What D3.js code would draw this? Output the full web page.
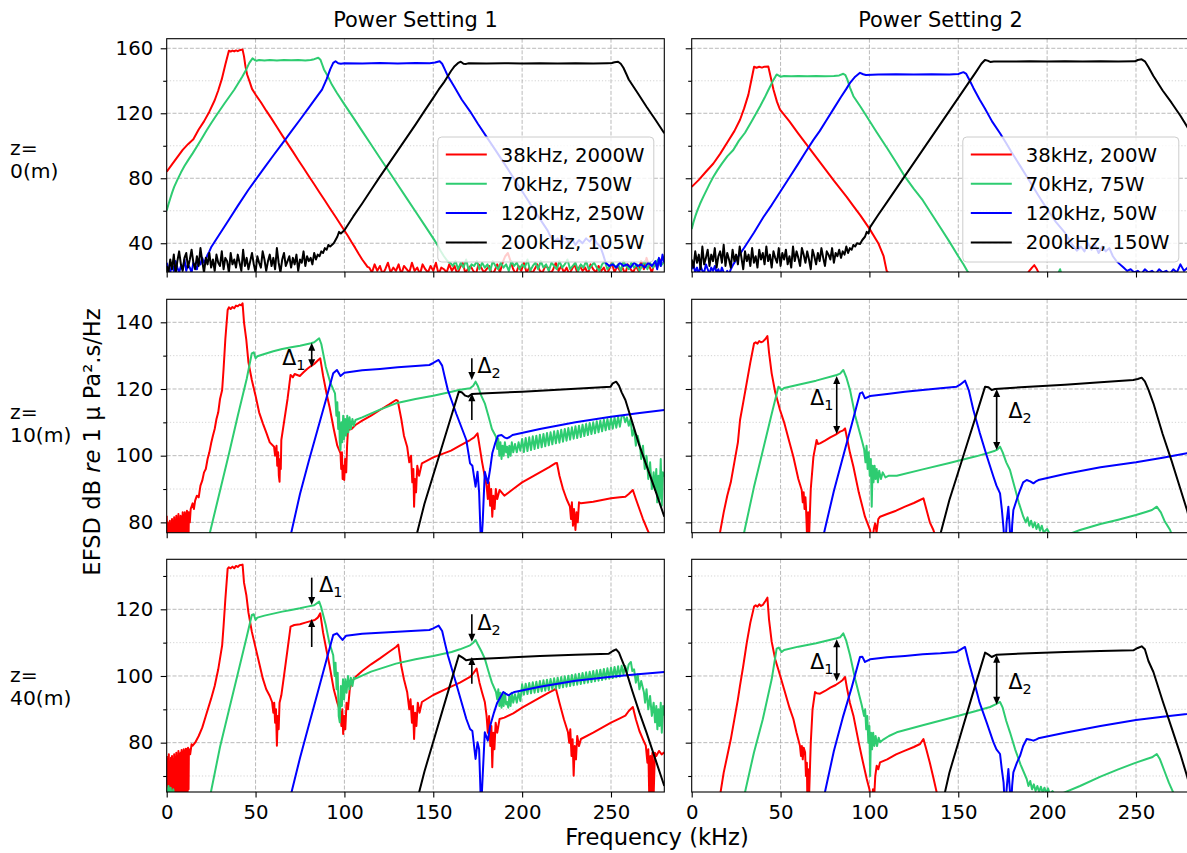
<!DOCTYPE html>
<html><head><meta charset="utf-8">
<script src="https://cdn.jsdelivr.net/npm/d3@7"></script>
<style>
body{margin:0;background:#fff}
svg{display:block}
text{font-family:"DejaVu Sans",sans-serif;fill:#000}
</style>
</head><body>
<svg id="c" width="1187" height="853"></svg>
<script>
// ---------------- DATA ----------------
const freqTicks = [0, 50, 100, 150, 200, 250];
const columnTitles = ["Power Setting 1", "Power Setting 2"];
const rowLabels = [["z=", "0(m)"], ["z=", "10(m)"], ["z=", "40(m)"]];
const rowYDomains = [[22.3, 165.9], [76.9, 146.9], [65.2, 135.0]];
const rowYMajor = [[40, 80, 120, 160], [80, 100, 120, 140], [80, 100, 120]];
const rowYMinor = [[60, 100, 140], [90, 110, 130], [70, 90, 110, 130]];
const seriesColors = ["#ff0000", "#2ecc71", "#0000ff", "#000000"];
const legendPS1 = ["38kHz, 2000W", "70kHz, 750W", "120kHz, 250W", "200kHz, 105W"];
const legendPS2 = ["38kHz, 200W", "70kHz, 75W", "120kHz, 50W", "200kHz, 150W"];
const yLabelParts = [["EFSD dB ", false], ["re", true], [" 1 \u03bc Pa\u00b2.s/Hz", false]];
const xLabel = "Frequency (kHz)";

// ---- Power setting 1, z = 0 m ----
const ps1_z0_38 = [0,84, 3,88.5, 6,93, 9,97.5, 12,101, 15,104, 18,110, 21,115, 24,121, 27,128, 29,134, 31,141, 33,150, 35,158.5, 36,158, 37,158.6, 38,158.1, 39,158.7, 40,158.2, 41,158.8, 42.7,159.2, 43.5,155, 44.3,149, 45.2,144, 46.8,139, 48,135, 50,131.5, 53,126.8, 56,121.6, 59,116.7, 62,111.5, 65,106.4, 68,101.3, 71,96.4, 74,91.2, 77,86.3, 80,81.2, 83,76.3, 86,71.2, 89,66.3, 92,61.2, 95,56.3, 98,51.2, 100,47.8, 102,44.5, 104,40.8, 106,37.3, 108,33.5, 110,30, 112,27, 113,25.5];
const ps1_z0_38_floor = [25,22,27,23,26,21,24,28,22,25, 23,27,21,26,24,22,28,23,25,21, 27,24,22,26,23,28,21,25,24,22, 27,23,26,21,25,28,22,24,26,23, 21,27,25,22,24,26,21,23,27,22, 28,32,34,29,24,21,26,23,28,22, 25,21,24,27,23,22,26,25,21,24, 28,23,26,22,25,21,24,27,22,26, 23,25,21,27,24,22,26,23,25,21, 24,28,22,26,23,25,21,27,24,22, 26,23,29,24,31,26,22,28,25,30,27];
const ps1_z0_70 = [0,60.2, 1,64, 2,67.5, 3,71, 4.2,74.7, 6,79, 8,83.5, 10,87.5, 12,91, 14.6,95.3, 17,99.5, 20,105, 22.5,109.5, 25,113.9, 27.5,118, 30,122, 32.5,126, 35.4,130.5, 38,134.5, 40,138, 42.5,142.5, 44.8,147, 46.5,151, 48.3,153.8, 49.5,152.8, 50.5,152.3, 52,152.8, 55,152.5, 58,152.8, 62,152.5, 66,152.8, 70,152.6, 74,152.8, 78,152.5, 81,152.8, 83,153.3, 85.3,154.2, 86.5,153, 87.5,150, 88.5,147, 90.6,142.9, 93,137.5, 95.8,132.5, 100,125.5, 105,117.3, 110,109, 115,100.8, 120,92.5, 125,84.3, 130,76, 135,67.8, 140,59.5, 145,51.3, 150,43, 152,39.5, 154,35.5, 156,32, 158,29, 160,27.5];
const ps1_z0_70_floor = [26,29,24,28,25,30,23,27,26,29, 24,28,25,27,23,29,26,24,28,25, 27,23,29,26,28,24,27,25,30,23, 26,28,24,29,25,27,23,28,26,24, 29,25,27,30,24,26,28,23,27,25, 29,24,26,28,25,23,27,29,24,26, 28,25,27,23,29,26,24,28,25,27, 23,26,29,24,28,25,27,30,26,28];
const ps1_z0_120_floor = [28,24,22,27,23,29,25,22,26,24,30,23,27,25,22,28,26,24,29,27,31,28,30,33,35];
const ps1_z0_120 = [25,37.5, 30,46, 35,54.5, 40,63, 45.8,72.6, 50,79, 55,86.5, 60,94, 66.6,103.6, 70,108.7, 75,116, 80,123.5, 85,131, 87.4,134.6, 90,141, 92,147, 93.7,151, 95,152, 96.5,150.8, 98,150.5, 100,150.8, 110,150.7, 120,150.9, 130,150.7, 140,150.9, 148,150.8, 151,151.2, 153.6,152, 155,150.5, 156.5,147, 158.2,142.9, 162,136, 166,128.5, 170.7,121.2, 175,113.7, 180,105.5, 185,97.3, 190,89, 195,80.5, 200,72, 205,63.5, 210,55, 214.4,47.8, 216,44, 218,41, 220,43, 222,40, 224,44, 226,41, 228,43, 230,39, 232,42, 234,40, 236,43, 238,41, 240,44, 242,40, 244,38, 245.6,33, 247,28, 249,26, 251,27, 253,25, 255,28, 257,26, 259,27, 261,25, 263,28, 265,26, 267,27, 269,25, 271,28, 273,26, 275,29, 276,24, 277,31, 278,26, 279,33, 280,28];
const ps1_z0_200_floor = [26,22,30,24,33,21,29,35,27,23,31,34,25,30,36,28,24,32,26,37,29,22,31,27,34,25,30,23,33,28,26,35,24,31,29,22,34,27,30,25,33,28,23,36,26,31,24,29,34,27,22,32,28,25,35,30,23,29,33,26,31,24,37,28,22,30,34,26,29,32,25,31,27,33,23,30,28,35,26,32,29,31,27,34,30,33,32,35,34,37,36,39];
const ps1_z0_200 = [92,38, 94,40, 96,44, 97,47, 98,46, 100,48, 105,56.5, 110,64.5, 115,72.8, 120,81, 125,89, 130,97, 135,105, 140,113, 145,121.3, 150,129.5, 153,134.5, 156,139, 158,142.5, 160,146, 162,149, 164,151, 165.5,151.7, 167,150.5, 168.5,150.4, 170,150.8, 180,150.6, 190,150.8, 200,150.6, 210,150.8, 220,150.6, 230,150.8, 240,150.6, 248,150.8, 250.5,150.9, 252,151.4, 254,151.7, 255.5,150.5, 257,148, 258.5,144.5, 260,140.8, 265,132.5, 270,124, 275,116, 280,107.7];

// ---- Power setting 2, z = 0 m ----
const ps2_z0_38 = [0,74.7, 4,79, 8,84, 12.2,89.1, 16,95, 20,102, 24,109, 27.2,116, 29.5,123, 31.9,131.5, 33.5,140, 35.1,148.6, 36.5,148, 38,148.6, 39.5,148.1, 41,148.7, 43.1,148.8, 44.5,142, 46,134.6, 48,127, 49.7,122.2, 55,115, 60,107.5, 65,100.3, 70,93, 75,85.8, 80,78.5, 87.2,68.5, 91,62.8, 95,57, 100,49, 105,40, 108,32, 109.7,23, 112,20, 130,19, 150,20, 170,19, 188,20, 190,23, 191.5,25, 192.8,26.5, 194,24.5, 196,20, 230,19, 280,20];
const ps2_z0_70 = [0,48.8, 1,53, 2,56.5, 3.3,60.5, 4.7,64.3, 6.5,68.5, 8.5,73, 10.3,77, 12.2,80.9, 14.5,85, 17,89, 20,93.5, 23.4,97.4, 26.5,103, 30,108, 34,115.5, 38.5,124.3, 41,129.5, 43,134, 45.5,139.5, 47.8,143.9, 49,143.2, 50,142.5, 52,143, 56,142.8, 60,143, 65,142.8, 70,143, 75,142.8, 80,143, 83,143.3, 85.3,144.3, 86.5,143.5, 87.5,141, 89,136, 91,130.5, 95,124, 98.5,118, 104,108.5, 110,98.5, 115,89.8, 120,81, 125,73.5, 130,66.5, 135,58, 140,49.5, 145,41, 150,32, 152.9,27.1, 155,23, 157,20, 205,20, 206.5,22, 207.3,24, 208,21, 210,19, 280,19];
const ps2_z0_120_floor = [24,27,22,25,21,26,23,22,27,24,21,25,23,26,22,24,21,25,22,20,23,21,24];
const ps2_z0_120 = [23.4,27, 26,31.5, 30,38, 35,46.5, 40.3,56, 45,63.5, 50,72, 55,80.5, 60,89, 64,96, 68.5,103.6, 72,109, 76,116, 80,123, 84,130, 87,135, 89.1,138.7, 92,142.5, 94.7,144.9, 96.5,144, 98,143.6, 105,143.8, 115,144, 125,143.8, 135,144, 145,143.9, 150,144.2, 152.9,145.3, 154.5,144.2, 156.5,140, 158.5,135.6, 162,128.5, 165,123, 169,115, 173.5,107.7, 177,101.5, 180,96, 185,87.3, 190,78.5, 195,69.5, 200,61, 205,53, 210,46.5, 213,41, 216.7,35.4, 219,38, 221,35, 223,40, 225,36, 227,39, 229,34, 231,38, 233,35, 235,37, 237,32, 239,29, 241,27, 243,25, 245,23, 247,24, 249,22, 251,23, 253,21, 255,24, 257,22, 259,23, 261,21, 263,24, 265,22, 267,23, 269,21, 271,24, 273,22, 275,27, 277,23, 279,25, 280,22];
const ps2_z0_200_floor = [30,25,35,28,33,24,38,27,31,36,26,33,29,37,25,32,35,28,39,26,34,30,25,36,29,33,27,38,31,24,35,29,33,26,37,28,32,25,36,30,34,27,38,29,33,25,35,31,28,37,26,34,30,36,27,32,25,38,29,35,31,26,37,33,28,35,30,24,36,32,27,34,29,37,31,26,35,33,30,37,28,34,32,36,31,35,33,38,34,37,36,39,38,40];
const ps2_z0_200 = [94.7,39.5, 96,42, 97.5,44, 98.5,47, 99.5,46, 100.4,49.9, 105,57.5, 110,65.5, 115,73.5, 120,81.5, 125,89.5, 130,97.5, 135,105.5, 140,113.5, 145,121.5, 150,129.5, 155,137.5, 160,145.5, 163,150.5, 165,152.8, 166.5,152.4, 168,151.6, 170,151.9, 180,151.8, 190,152, 200,151.8, 210,152, 220,151.8, 230,152, 240,151.9, 249.5,152, 251,152.8, 253.2,153.2, 255,152, 257,148.5, 259.8,142.9, 265,134, 270,126.5, 275,118.5, 278.7,111.9, 280,109.5];

// ---- Power setting 1, z = 10 m ----
const ps1_z10_38_start = [82,74,80,73,79.5,75,80.5,72,79,74,81,73,80,75,81.5,72,80,74,82,73,81,75,82.5,73,81,74,82,72,81.5,75,83,73,82,74,83,72,82.5,75,83.5,74,83,76];
const ps1_z10_38 = [12.5,83, 13,80, 13.5,84, 14.6,85.7, 15.3,84, 16,86.5, 17,88, 18,87.5, 19,91, 20,92.5, 21,95, 22,96, 23,99, 24,101, 25,103.7, 26,106, 27,108, 28,111, 29,113, 30,117, 31.2,119.7, 32,126, 33,135, 34.3,143.7, 35,144.5, 36,144, 37,144.6, 38,144.2, 39,145, 40,144.8, 41,145.3, 42,145.1, 42.7,145.7, 43.5,140, 44.8,134.7, 46,128, 47.9,122.7, 50,118, 52,113, 54.1,109.7, 56,107, 58,104, 60.4,102.7, 61,100, 61.8,103, 62.2,97, 62.7,101, 63.1,94, 63.5,92.2, 63.8,99, 64.2,96, 64.5,104.7, 66,110, 68,117, 69.7,124.2, 71,123.5, 72,124.5, 74.9,123.9, 77,125, 79,126, 81,126.8, 83,127.5, 85.3,128.7, 86.4,129.2, 88,124, 90,118.5, 91.6,114.7, 94,108, 96,103, 97.8,100.7, 98.2,96, 98.6,101, 99,93, 99.5,97, 99.9,92.7, 100.4,99, 101,95, 101.5,103, 102,107.7, 104,108, 106.2,109.2, 110,110.5, 115,112, 120,113.7, 125,115.3, 129,116.7, 130,116.5, 132,111, 133.5,106, 135.3,102.7, 136.5,98, 137.5,100, 138.2,92, 138.8,96, 139.2,84.7, 139.7,93, 140.3,89, 141,97, 142,94, 143.6,97.7, 150,99.5, 160,101.5, 165,103, 170.7,104.7, 173,105.5, 174.9,106.7, 176,103, 177.5,98, 179,93.7, 180,91, 180.7,87, 181.3,92, 182,85, 182.6,90, 183.2,81.7, 183.8,88, 184.5,84, 185.2,90, 186,87, 187.3,89.7, 190,88, 195,90, 200,92, 205,93.5, 210,95, 215,96.5, 218.6,97.7, 219.6,97.8, 221,94, 223,90, 225,87, 226.9,84.7, 227.5,81, 228,86, 228.6,79, 229.2,84, 230,77.7, 230.6,83, 231.3,80, 232,86, 233.1,85.7, 240,86.2, 245,86.7, 250,87.2, 255,87.5, 258.1,87.7, 260,88.5, 262.3,89.7, 264,87, 266,84, 268,81, 270.6,77.7, 272,76, 280,74];
const ps1_z10_70 = [23.9,76, 30,89.5, 35,100.5, 40,112, 45,123, 47.9,130.7, 49,131, 50,129.2, 51,129.8, 55,130.5, 60,131.3, 65,132, 70,132.5, 75,133, 81.2,133.7, 83,134, 85.8,135.2, 87,133.5, 89.5,126.7, 92,122, 94.7,118.7, 95.5,112, 96,116, 96.5,108, 97,113, 97.4,104, 97.8,101.7, 98.3,110, 98.8,104, 99.3,112, 99.8,105, 100.4,111, 101,106, 101.6,112, 102.2,107, 102.9,111.5, 103.6,108, 104.5,111, 105.3,109, 106.2,110.7, 110,111.5, 120,113.8, 129,115.7, 140,117, 150,118, 160.3,119.2, 165,119.8, 170.7,120.2, 172.5,121, 173.8,122.2, 175,121, 177,118, 179,115.7, 181,112, 183,108, 185.3,105.7, 186,102, 186.6,105, 187.2,100, 187.8,104, 188.4,99, 189,103, 189.6,100, 190.3,104, 191,101, 191.5,102.7, 192.2,99.5, 192.8,103, 193.5,100, 194.2,104, 195,101, 196,103.5, 197,101, 198,104, 199,101.5];
const ps1_z10_70_band = [105,101.1,105.3,101.4,105.5,101.7,105.8,102,106,102.3,106.3,102.5,106.5,102.8,106.8,103.1,107,103.4,107.3,103.7,107.5,103.9,107.8,104.2,108,104.5,108.3,104.8,108.5,105.1,108.8,105.3,109,105.6,109.3,105.9,109.5,106.2,109.8,106.5,110,106.7,110.3,107,110.5,107.3,110.8,107.6,111,107.9,111.3,108.1,111.5,108.4,111.7,108.7,111.8];
const ps1_z10_70_end = [257.1,112, 258,110, 259,111.5, 260,109, 261,111, 262,106, 263,108, 264,103, 265,106, 266.4,102.7, 267,99, 268,103, 269,96, 270,100, 271,93, 272,98, 273,90, 274,95, 274.8,89.7, 275.5,96, 276,86, 276.7,94, 277.3,87, 278,99, 278.6,85, 279.2,95, 280,93.7];
const ps1_z10_120 = [69.7,76, 75,88.5, 80,98.5, 85,108, 90,117.5, 93.7,124.7, 95.8,125.7, 97.8,123.9, 100,124.9, 110,125.6, 120,126, 130,126.5, 140,126.9, 147.8,127.2, 150,127.8, 153,128.7, 155,127, 156.5,123.5, 158.2,119.7, 163,112.5, 168.6,104.7, 170.7,97.7, 172,97, 173.8,90.7, 174.9,95.2, 175.8,89, 176.9,72, 177.8,80, 179,95.2, 180.7,91.7, 182,96, 183.2,100.7, 185,104, 186.5,106, 188.4,106.2, 190,105.5, 191.5,105.2, 193,105.6, 194.6,106.2, 210,108, 230,110, 250,111.7, 265,112.7, 280,113.7];
const ps1_z10_200 = [140.5,76, 145,85.5, 150,94.2, 155,102.9, 160,111.6, 164.4,119.2, 166,119, 168,118, 169.7,117.7, 171.7,118.5, 180,118.7, 200,119.2, 220,119.8, 240,120.4, 249.8,120.7, 251,121.7, 252.9,122.2, 254.5,121, 256,119, 258.1,116.7, 262,110, 266,103, 270,97, 275,89.5, 280,81.7];

// ---- Power setting 2, z = 10 m ----
const ps2_z10_38 = [15.6,76, 18,83, 20,88, 22,92, 24,98, 26,104, 27.2,110.7, 29,116, 31,122, 33,128, 35.1,133.7, 36,134, 37,133.6, 38,134.4, 39,134, 40,134.2, 41.5,135, 42.6,135.9, 43.5,131, 45,124.7, 47,119, 49.7,113.7, 52,110, 55,104, 57.2,99.7, 60,93, 61.9,89.7, 62.5,86, 63,89, 63.5,84, 64,87.5, 64.3,84.7, 64.7,79, 65.1,72, 65.5,83, 66,75, 67,90, 68.5,99.7, 70.3,104.7, 71,103.5, 72.2,103.7, 75,104.5, 78,105.5, 81,106.3, 83.5,107.2, 85,107.5, 86.3,108.2, 87.5,105, 89,101, 91,96.7, 94,89, 97.5,81.7, 100.4,77.7, 101.5,74, 102.5,78, 103.2,79.7, 104,77, 105,81, 106,81.7, 110,82.5, 115,83.5, 120,84.7, 125,85.8, 128.5,86.7, 130.4,87.2, 132,84, 134,80, 136,77.7, 137,76];
const ps2_z10_70 = [29.1,76, 35,90.5, 40,101.5, 45,112.5, 48.8,120.7, 50.6,119.7, 52,120.3, 60,121.3, 70,122.5, 81.6,124.2, 83.5,124.6, 85.3,125.7, 87,123.5, 89.1,119.7, 92,112, 95.7,104.7, 97,102, 97.8,98, 98.4,103, 99,96, 99.6,101, 100.2,94, 100.8,99, 101.3,84.7, 101.8,97, 102.3,92, 102.9,97, 103.5,93, 104.1,96, 104.8,92, 105.5,95.5, 106.5,93, 107.5,95, 109,93.5, 111,94, 115.4,94, 130,95.9, 145,97.8, 160,99.8, 166,100.7, 170.7,101.5, 172,101.8, 173.5,102.7, 175,101, 177,98, 179.1,95.7, 182,90, 184,86, 186.6,81.7, 188,80, 189,81.5, 190,79, 191,80.5, 192,78.5, 193,80, 194,78, 195,79.5, 196,77.5, 197,79, 198,77, 200,78, 202,76, 205,75, 218.5,77.7, 230,79.5, 240,80.8, 250,82.2, 256,83.2, 259,83.7, 261.7,84.7, 264,83, 266,80.5, 269.2,77.7, 271,75];
const ps2_z10_120 = [74.1,76, 80,89.4, 85,99.4, 90,109.3, 94.7,118.7, 96,119, 97.5,117.2, 100.4,117.9, 110,118.5, 120,119.2, 130,119.7, 140,120.2, 149.1,120.7, 151,121.3, 153.8,122.5, 156,119.5, 158.5,113.7, 162,107, 166,100, 169.8,93.7, 171.5,91, 173.5,88.7, 174.5,84, 175.5,78, 176.3,70, 177.2,80, 178.2,84.7, 179,78, 179.7,70, 180.3,79, 181,83.7, 183,87, 184.8,89.7, 186.5,92, 188.5,92.7, 190.5,92.3, 192.3,91.7, 194,92.4, 195.1,92.7, 210,94.5, 230,96.5, 250,98, 265,99.4, 278.7,100.7, 280,100.8];
const ps2_z10_200 = [139.7,76, 145,86.7, 150,95.1, 155,103.6, 160,112, 165.1,120.7, 167,120.5, 168.8,119.7, 170.7,120, 190,120.7, 210,121.3, 230,122, 248.5,122.7, 251,123, 253.2,123.4, 255,122.3, 257,119.8, 259.8,115.7, 265,106.5, 270,98.5, 275,90, 278.7,83.7, 280,81];

// ---- Power setting 1, z = 40 m ----
const ps1_z40_38_start = [76,62,75,64,76.5,61,74,66,75.5,63,76,60,75,65,76.5,62,75.5,64,77,61,76,63,77.5,62,76.5,65,77,61,77.8,63,77,60,78,64,77.5,62,78.2,65,78,61,78.5,66];
const ps1_z40_38 = [12.5,78.1, 13.2,76.5, 14,79.5, 14.6,79.1, 16,80, 18,82, 20,84.5, 22,88, 25,93.2, 27,97, 29,102, 31.2,109.2, 32,115, 33,123, 34.3,132.2, 35,132.6, 36,132.3, 37,132.8, 38,132.3, 39,133, 40,132.7, 41,133.2, 42.7,133.4, 43.5,128, 44.8,124.3, 46,119, 47.9,113.3, 50,108.5, 52,104, 54.1,99.2, 56,96, 58,94, 59.3,92.2, 60,89, 60.5,92, 61,86, 61.5,90, 62,79.1, 62.5,88, 63,84, 63.5,92, 64.5,94.2, 66,100, 68,108, 69.7,114.8, 71.8,115.3, 75,115.5, 78,116, 80,116.3, 83.3,116.8, 85,117.5, 86.4,118.8, 88,113, 90,107.5, 91.6,103.2, 94,96, 96,92, 97.8,89.1, 98.3,85, 98.8,90, 99.3,82.6, 99.9,88, 100.5,84, 101.2,92, 102,90, 103,96, 104.1,98.2, 106.2,99.7, 110,101.5, 115,103.5, 120,105.3, 125,107.2, 129,108.7, 130.3,109.4, 132,103, 133.5,99, 135.3,95.2, 136.5,90, 137.2,93, 138,86, 138.6,91, 139.2,81.1, 139.8,89, 140.5,85, 141.3,92, 142.3,89, 143.6,92.2, 150,94.3, 160,96.8, 165,98, 170.7,99.7, 172.5,100.8, 174.4,102.2, 176,98, 177.5,95, 179,92.2, 180,88, 180.7,83, 181.4,88, 182.1,79, 182.7,85, 183.2,72.6, 183.8,83, 184.4,78, 185.1,86, 186,83, 187.3,87.1, 190,87.5, 195,88.8, 200,90.5, 205,92, 210,93.5, 215,95, 217.5,95.7, 219,96.2, 221,92, 223.5,87, 225.8,83.1, 226.5,80, 227.1,84, 227.8,76, 228.4,81, 229,70.1, 229.6,79, 230.3,75, 231,82, 232,79, 233.1,81.1, 240,83, 245,84.5, 250,86, 255,87.3, 258.1,88.1, 260,89.5, 262.3,90.7, 264,87, 266,83.5, 268,81, 269.6,79.1, 270.5,74, 271,78, 271.6,62, 272.2,76, 272.7,60, 273.3,77, 274,64, 274.7,77, 275.5,76, 277,77.5, 278.5,76.5, 280,77.1];
const ps1_z40_70 = [0,64, 1,67, 1.5,63, 2.2,66.5, 3,63, 3.7,66, 4.5,63, 5,60, 23.9,62, 25,65.5, 30,78.7, 35,89.7, 40,100.7, 45,111.7, 47.9,118.3, 49,118.5, 50,116.8, 51,117.5, 55,118.1, 60,118.7, 65,119.3, 70,119.8, 75,120.3, 79.1,120.8, 83,121.2, 85.8,122.3, 87,120.5, 89.5,115.3, 91.5,110, 93.7,106.2, 94.5,100, 95,104, 95.6,96, 96.2,101, 96.8,88, 97.4,86.1, 98,97, 98.6,91, 99.2,99, 99.8,93, 100.5,99, 101.2,95, 102,100, 102.8,96, 103.6,99.5, 104.5,97, 105.3,99.5, 106.2,99.2, 115,101.3, 129,103.7, 140,105, 150,106, 160.3,107.2, 165,108, 170.7,109.2, 172.5,110, 173.8,110.8, 175,109.5, 177,107.5, 179,105.2, 181,101.5, 183,98, 185.3,95.2, 186,93, 186.6,96, 187.2,91, 187.8,95, 188.4,90.5, 189,94.5, 189.6,91, 190.3,95, 191,91.5, 191.5,92.2, 192.2,90.5, 192.8,94, 193.5,91, 194.2,95, 195,92, 196,94.5, 197,92, 198,95, 199,92.5];
const ps1_z40_70_band = [97.5,94.4,97.7,94.6,97.9,94.8,98.1,95,98.3,95.2,98.5,95.4,98.7,95.6,98.9,95.8,99.1,96,99.3,96.2,99.5,96.4,99.7,96.6,99.9,96.8,100.1,97,100.3,97.2,100.5,97.4,100.7,97.6,100.9,97.8,101.1,98,101.3,98.2,101.5,98.4,101.7,98.6,101.9,98.8,102.1,99,102.3,99.2,102.5,99.4,102.7,99.6,102.9,99.8,103.1];
const ps1_z40_70_end = [257,100.5, 258,103, 259,101, 260,103.5, 261.2,104.2, 262,101.5, 263,102, 264,98, 265,100.5, 266,96, 267,98.5, 268.5,95.2, 269.2,92, 270,96, 271,90, 272,94, 273,88, 274,92, 274.8,86.1, 275.5,91, 276.1,84, 276.7,90, 277.3,85, 278,92, 278.6,83, 279.3,91, 280,88.1];
const ps1_z40_120 = [69.7,64, 75,75.4, 80,85.3, 85,95.1, 90,105, 93.7,112.3, 95.8,112.8, 98.9,110.8, 101,112.1, 110,112.7, 120,113, 130,113.3, 140,113.6, 147.8,113.8, 150,114.3, 153,115.1, 155,113.5, 156.5,110, 158.2,106.2, 163,97.5, 168.6,87.1, 170.7,84.1, 172,83.5, 173.8,75.1, 174.9,80.1, 175.8,78, 176.9,60, 177.8,70, 179,83.1, 180.7,80.6, 182,85, 184.2,89.1, 186,92, 189.4,95.2, 191,94.6, 192.5,94.2, 194,94.8, 195.7,95.2, 210,96.8, 230,98.6, 250,99.8, 265,100.5, 280,101.2];
const ps1_z40_200 = [141.5,64, 145,71.3, 150,80.3, 155,89.3, 160,98.3, 164.4,106.2, 166.5,105.5, 168.6,104.7, 171.7,105, 190,105.5, 210,106, 230,106.4, 248.8,106.7, 251,107.5, 252.9,108, 254.5,107, 256,105, 258.1,102.2, 262,95.5, 266,89, 270,83, 275,75, 280,67];

// ---- Power setting 2, z = 40 m ----
const ps2_z40_38 = [15.6,63, 18,71, 20,76, 22,81, 24,87, 26,93, 27.2,97.2, 29,103, 31,110, 33,116, 35.1,120.8, 36,121.2, 37,120.8, 38,121.5, 39,121, 40,121.3, 41.5,122.5, 42.6,123.5, 43.5,117, 45,110.3, 47,105, 49.7,100.2, 52,96, 55,90.5, 57.2,87.1, 59,83, 60.9,79.1, 61.5,76, 62,79, 62.5,75, 63,78.5, 63.8,77.1, 64.3,70, 64.8,74, 65.1,62, 65.5,72, 66,63, 67,80, 68,90, 69.4,95.2, 70.5,94.8, 72.2,94.7, 75,95.5, 78,96.5, 81,97.3, 83.5,98.2, 85,98.8, 86.3,99.7, 87.5,96, 89,92, 91,88.1, 94,80, 96,75, 98.5,69.1, 100,66, 101.3,62, 102,66, 102.6,63, 103.3,70, 104.1,73.1, 105,72, 106,74.1, 110,75, 115,76.5, 120,77.6, 125,78.7, 128.5,79.6, 130.4,81.1, 132,78, 134,74, 136,69.5, 137.9,65, 139,62];
const ps2_z40_70 = [29.1,63, 35,77, 40,87, 45,99, 47.8,108.2, 49,108.5, 50.6,107.2, 52,107.8, 60,108.8, 70,109.8, 81.6,111.3, 83.5,111.6, 85.3,112.8, 87,110.5, 89.1,106.2, 92,99, 95.7,91.2, 97,88, 97.6,90, 98.2,84, 98.8,88, 99.4,80, 100,85, 100.4,70, 100.9,83, 101.5,78, 102.1,83, 102.8,79, 103.5,82, 104.3,79, 105.2,81.5, 106,80.1, 108,81, 111,82, 115.4,83.1, 130,85.2, 145,87.3, 160,89.5, 167.9,90.7, 171,91.5, 173.5,92.2, 175,90.5, 177,86.5, 179.1,83.1, 182,78, 185,73.5, 188.5,69.1, 189.5,67, 190.5,68.5, 191.5,66, 192.5,67.5, 193.5,65.5, 194.5,67, 195.5,65.2, 196.5,66.8, 197.5,65, 198.5,66.5, 199.5,64.8, 200.5,66.3, 201.5,64.5, 203,65.5, 205,64, 218.5,67, 230,69.8, 240,72, 250,74, 256,75.1, 259,75.6, 261.7,76.6, 263.5,75, 266,71.5, 268.5,68, 271,65, 272,63];
const ps2_z40_120 = [74.1,63, 80,77.5, 85,87.5, 90,96.5, 94.7,105.7, 96,105.8, 97.5,104.2, 100.4,105, 110,105.6, 120,106, 130,106.5, 140,106.8, 149.1,107.2, 151,107.8, 153.8,108.7, 156,104, 158.5,99.2, 162,92, 166,86, 169.8,80.1, 171.5,78, 173.5,76.6, 174.5,72, 175.5,68, 176.3,60, 177.2,66, 178.2,72.1, 179,66, 179.7,60, 180.3,67, 181,71.1, 183,74, 184.8,76.1, 186.5,79, 188.5,81.1, 190.5,80.9, 192.3,80.6, 194,81, 195.1,81.3, 210,83, 230,85, 250,86.8, 265,87.8, 278.7,88.6, 280,88.7];
const ps2_z40_200 = [141.6,63, 145,71, 150,80, 155,89, 160,98, 165.1,107, 167,106.4, 168.8,105.7, 171.6,106.4, 190,106.8, 210,107.2, 230,107.5, 248.5,107.7, 251,108.4, 253.2,108.9, 255,108, 257,104.5, 259.8,101.2, 265,92.5, 270,84.5, 275,76.5, 278.7,70, 280,67.5];

// ---- Δ annotations (frequency kHz, levels dB) ----
const arrows_ps1_z10 = [{kind:"both", f:81.6, a:133.9, b:126.5}, {kind:"one", f:171.7, from:129.2, to:122.7}, {kind:"one", f:171.7, from:110.7, to:118.7}];
const labels_ps1_z10 = [{sub:"1", f:78.0, v:127.2, anchor:"end"}, {sub:"2", f:174.9, v:124.7, anchor:"start"}];
const arrows_ps2_z10 = [{kind:"both", f:81.6, a:123.9, b:106.5}, {kind:"both", f:171.6, a:120.0, b:101.7}];
const labels_ps2_z10 = [{sub:"1", f:79.7, v:115.2, anchor:"end"}, {sub:"2", f:178.2, v:111.2, anchor:"start"}];
const arrows_ps1_z40 = [{kind:"one", f:81.6, from:129.5, to:121.3}, {kind:"one", f:81.6, from:108.7, to:117.1}, {kind:"one", f:171.7, from:118.5, to:110.3}, {kind:"one", f:171.7, from:97.7, to:105.7}];
const labels_ps1_z40 = [{sub:"1", f:85.8, v:125.3, anchor:"start"}, {sub:"2", f:174.9, v:113.8, anchor:"start"}];
const arrows_ps2_z40 = [{kind:"both", f:81.6, a:111.0, b:98.4}, {kind:"both", f:171.6, a:106.4, b:91.4}];
const labels_ps2_z40 = [{sub:"1", f:79.7, v:102.1, anchor:"end"}, {sub:"2", f:178.2, v:96.1, anchor:"start"}];

// ---------------- BUILD ----------------
const P = a => { const o = []; for (let i = 0; i + 1 < a.length; i += 2) o.push([a[i], a[i + 1]]); return o; };
const G = (f0, df, v) => v.map((y, i) => [f0 + i * df, y]);

const panels = [
  {r:0, c:0, legend:legendPS1, arrows:[], labels:[], series:[
    P(ps1_z0_38).concat(G(114, 1.5, ps1_z0_38_floor)),
    P(ps1_z0_70).concat(G(161, 1.5, ps1_z0_70_floor)),
    G(0, 1, ps1_z0_120_floor).concat(P(ps1_z0_120)),
    G(0, 1, ps1_z0_200_floor).concat(P(ps1_z0_200))]},
  {r:0, c:1, legend:legendPS2, arrows:[], labels:[], series:[
    P(ps2_z0_38), P(ps2_z0_70),
    G(0, 1, ps2_z0_120_floor).concat(P(ps2_z0_120)),
    G(0, 1, ps2_z0_200_floor).concat(P(ps2_z0_200))]},
  {r:1, c:0, arrows:arrows_ps1_z10, labels:labels_ps1_z10, series:[
    G(0, 0.3, ps1_z10_38_start).concat(P(ps1_z10_38)),
    P(ps1_z10_70).concat(G(200, 1, ps1_z10_70_band), P(ps1_z10_70_end)),
    P(ps1_z10_120), P(ps1_z10_200)]},
  {r:1, c:1, arrows:arrows_ps2_z10, labels:labels_ps2_z10, series:[
    P(ps2_z10_38), P(ps2_z10_70), P(ps2_z10_120), P(ps2_z10_200)]},
  {r:2, c:0, arrows:arrows_ps1_z40, labels:labels_ps1_z40, series:[
    G(0, 0.3, ps1_z40_38_start).concat(P(ps1_z40_38)),
    P(ps1_z40_70).concat(G(200, 1, ps1_z40_70_band), P(ps1_z40_70_end)),
    P(ps1_z40_120), P(ps1_z40_200)]},
  {r:2, c:1, arrows:arrows_ps2_z40, labels:labels_ps2_z40, series:[
    P(ps2_z40_38), P(ps2_z40_70), P(ps2_z40_120), P(ps2_z40_200)]}
];

// ---------------- LAYOUT ----------------
const colX = [[166.7, 664.3], [691.7, 1189.3]];
const rowY = [[38.7, 272], [299.3, 532.7], [559.3, 792]];
const FS = 19.7;      // ticks, legend
const FS_TITLE = 20.9;
const FS_LABEL = 22.6;
const FS_ROW = 20.3;
const FS_DELTA = 20.5;

const svg = d3.select("#c");
const defs = svg.append("defs");

panels.forEach((p, i) => {
  const [x0, x1] = colX[p.c], [y0, y1] = rowY[p.r];
  const x = d3.scaleLinear().domain([0, 280]).range([x0, x1]);
  const y = d3.scaleLinear().domain(rowYDomains[p.r]).range([y1, y0]);
  const g = svg.append("g");
  const cid = "clip" + i;
  defs.append("clipPath").attr("id", cid).append("rect")
    .attr("x", x0).attr("y", y0).attr("width", x1 - x0).attr("height", y1 - y0);

  // grids
  g.selectAll(".gmin").data(rowYMinor[p.r]).join("line")
    .attr("x1", x0).attr("x2", x1).attr("y1", d => y(d)).attr("y2", d => y(d))
    .attr("stroke", "#c8c8c8").attr("stroke-width", 0.8).attr("stroke-dasharray", "1.2,2");
  g.selectAll(".gmaj").data(rowYMajor[p.r]).join("line")
    .attr("x1", x0).attr("x2", x1).attr("y1", d => y(d)).attr("y2", d => y(d))
    .attr("stroke", "#a8a8a8").attr("stroke-width", 0.8).attr("stroke-dasharray", "4,1.8");
  g.selectAll(".gx").data(freqTicks.slice(1)).join("line")
    .attr("y1", y0).attr("y2", y1).attr("x1", d => x(d)).attr("x2", d => x(d))
    .attr("stroke", "#a8a8a8").attr("stroke-width", 0.8).attr("stroke-dasharray", "4,1.8");

  // curves
  const line = d3.line().x(d => x(d[0])).y(d => y(d[1]));
  const lg = g.append("g").attr("clip-path", `url(#${cid})`);
  p.series.forEach((s, k) => {
    lg.append("path").attr("d", line(s)).attr("fill", "none")
      .attr("stroke", seriesColors[k]).attr("stroke-width", 2).attr("stroke-linejoin", "round");
  });

  // annotations
  const head = (xp, tip, dir) => {
    const L = 8, w = 3.5;
    return `M${xp},${tip} L${xp - w},${tip - dir * L} L${xp + w},${tip - dir * L} Z`;
  };
  p.arrows.forEach(a => {
    const xp = x(a.f);
    if (a.kind === "both") {
      const ya = y(a.a), yb = y(a.b);
      g.append("line").attr("x1", xp).attr("x2", xp).attr("y1", ya + 6).attr("y2", yb - 6)
        .attr("stroke", "#000").attr("stroke-width", 1.6);
      g.append("path").attr("d", head(xp, ya, -1));
      g.append("path").attr("d", head(xp, yb, 1));
    } else {
      const yf = y(a.from), yt = y(a.to);
      const dir = yt > yf ? 1 : -1;
      g.append("line").attr("x1", xp).attr("x2", xp).attr("y1", yf).attr("y2", yt - dir * 6)
        .attr("stroke", "#000").attr("stroke-width", 1.6);
      g.append("path").attr("d", head(xp, yt, dir));
    }
  });
  p.labels.forEach(l => {
    const t = g.append("text").attr("x", x(l.f)).attr("y", y(l.v))
      .attr("text-anchor", l.anchor).style("font-size", FS_DELTA + "px");
    t.append("tspan").text("\u0394");
    t.append("tspan").attr("dy", 5).style("font-size", "14.4px").text(l.sub);
  });

  // spines
  g.append("rect").attr("x", x0).attr("y", y0).attr("width", x1 - x0).attr("height", y1 - y0)
    .attr("fill", "none").attr("stroke", "#000").attr("stroke-width", 1.1);

  // y axis
  const ya = d3.axisLeft(y).tickValues(rowYMajor[p.r]).tickSize(6).tickPadding(7.5)
    .tickFormat(p.c === 0 ? d3.format("d") : () => "");
  const yg = g.append("g").attr("transform", `translate(${x0},0)`).call(ya);
  const ym = d3.axisLeft(y).tickValues(rowYMinor[p.r]).tickSize(3.5).tickFormat(() => "");
  const ymg = g.append("g").attr("transform", `translate(${x0},0)`).call(ym);
  // x axis
  const xa = d3.axisBottom(x).tickValues(freqTicks).tickSize(5.5).tickPadding(7.5)
    .tickFormat(p.r === 2 ? d3.format("d") : () => "");
  const xg = g.append("g").attr("transform", `translate(0,${y1})`).call(xa);
  [yg, ymg, xg].forEach(ax => {
    ax.select(".domain").remove();
    ax.selectAll("line").attr("stroke", "#000").attr("stroke-width", 1.1);
    ax.selectAll("text").style("font-size", FS + "px").style("font-family", '"DejaVu Sans",sans-serif').attr("fill", "#000");
  });

  // legend
  if (p.legend) {
    const lw = 216, lh = 125;
    const lx = x1 - 10.5 - lw, ly = 137;
    const lgd = g.append("g");
    lgd.append("rect").attr("x", lx).attr("y", ly).attr("width", lw).attr("height", lh)
      .attr("rx", 4).attr("fill", "#fff").attr("fill-opacity", 0.8)
      .attr("stroke", "#cccccc").attr("stroke-width", 1);
    p.legend.forEach((name, k) => {
      const yy = 154.5 + k * 29.3;
      lgd.append("line").attr("x1", lx + 8).attr("x2", lx + 49).attr("y1", yy).attr("y2", yy)
        .attr("stroke", seriesColors[k]).attr("stroke-width", 2);
      lgd.append("text").attr("x", lx + 63).attr("y", yy + 7).style("font-size", FS + "px").text(name);
    });
  }
});

// column titles
columnTitles.forEach((t, c) => {
  svg.append("text").attr("x", (colX[c][0] + colX[c][1]) / 2).attr("y", 27)
    .attr("text-anchor", "middle").style("font-size", FS_TITLE + "px").text(t);
});
// row labels
const rowLabelY = [[155, 178], [418.7, 442], [682, 705]];
rowLabels.forEach((lab, r) => {
  lab.forEach((s, j) => {
    svg.append("text").attr("x", 10).attr("y", rowLabelY[r][j]).style("font-size", FS_ROW + "px").text(s);
  });
});
// y label
const yl = svg.append("text").attr("transform", "translate(100,442) rotate(-90)")
  .attr("text-anchor", "middle").style("font-size", FS_LABEL + "px");
yLabelParts.forEach(([s, it]) => {
  const ts = yl.append("tspan").text(s);
  if (it) ts.style("font-style", "italic");
});
// x label
svg.append("text").attr("x", 657).attr("y", 845).attr("text-anchor", "middle")
  .style("font-size", FS_LABEL + "px").text(xLabel);
</script>
</body></html>
